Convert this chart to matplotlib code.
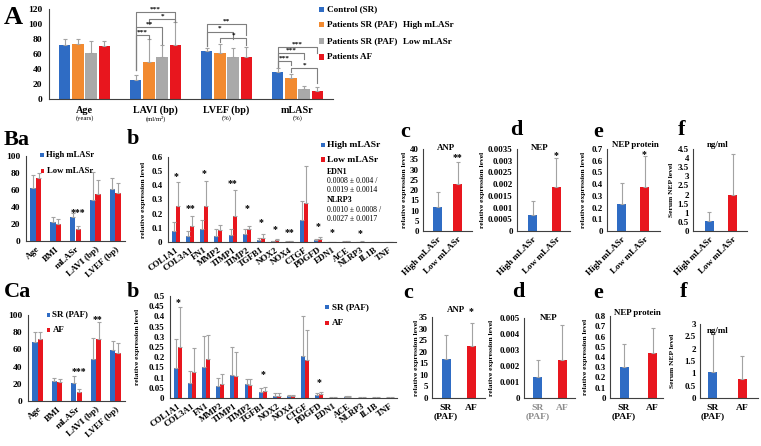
import numpy as np
import matplotlib
matplotlib.use('Agg')
import matplotlib.pyplot as plt
from matplotlib.patches import Rectangle
from matplotlib.ticker import FuncFormatter
from matplotlib.transforms import offset_copy

# ---------------- data ----------------
A_groups = ['Age', 'LAVI (bp)', 'LVEF (bp)', 'mLASr']
A_units = ['(years)', '(ml/m²)', '(%)', '(%)']
A_series = ['Control (SR)', 'Patients SR (PAF)', 'Patients SR (PAF)', 'Patients AF']
A_series_suffix = ['', 'High mLASr', 'Low mLASr', '']
A_control = [72, 25, 63.5, 36.4]
A_control_err = [7.5, 7, 4, 4.6]
A_high = [73, 49, 62, 28.4]
A_high_err = [6.5, 31, 12, 5.6]
A_low = [62, 55.5, 56.5, 14]
A_low_err = [15, 16.5, 11, 3.8]
A_af = [70.7, 72, 56.5, 11]
A_af_err = [6, 31, 13.5, 5]
A_sig_group = [1, 1, 1, 1, 2, 2, 2, 3, 3, 3, 3]
A_sig_from = [0, 1, 0, 0, 0, 0, 1, 0, 0, 0, 1]
A_sig_to = [3, 3, 2, 1, 3, 2, 3, 3, 2, 1, 3]
A_sig_y = [116, 107, 96, 85, 100, 90, 81, 69, 61, 51, 41]
A_sig_leg_from = [39, 100, 39, 39, 71, 71, 76, 43, 43, 43, 36]
A_sig_leg_to = [103, 103, 73, 80, 86, 80, 72, 62, 54, 46, 21]
A_sig_text = ['***', '*', '**', '***', '**', '*', '*', '***', '***', '***', '*']

clin_cats = ['Age', 'BMI', 'mLASr', 'LAVI (bp)', 'LVEF (bp)']
Ba_high = [61.8, 22.4, 28.3, 48, 60.6]
Ba_high_err = [16, 5.6, 4.7, 33.5, 14]
Ba_low = [73.6, 20.5, 14.6, 55, 56]
Ba_low_err = [6, 5, 2.7, 17, 12]
Ba_sig = ['', '', '***', '', '']
Ba_sig_y = [0, 0, 36, 0, 0]

Ca_sr = [68.9, 23.3, 21, 49.4, 59]
Ca_sr_err = [11.6, 4, 7.8, 23.4, 11]
Ca_af = [71.6, 22.2, 10.5, 72, 55.3]
Ca_af_err = [9, 3.8, 3.1, 19.4, 11.7]
Ca_sig = ['', '', '***', '**', '']
Ca_sig_y = [0, 0, 37, 97, 0]

genes = ['COL1A1', 'COL3A1', 'FN1', 'MMP2', 'TIMP1', 'TIMP2', 'TGFB1', 'NOX2',
         'NOX4', 'CTGF', 'PDGFD', 'EDN1', 'ACE', 'NLRP3', 'IL1B', 'TNF']
Bb_high = [0.076, 0.040, 0.095, 0.043, 0.047, 0.059, 0.017, 0.005, 0.002, 0.152, 0.012, 0.0008, 0.003, 0.0010, 0.0005, 0.0005]
Bb_high_err = [0.062, 0.036, 0.059, 0.047, 0.048, 0.031, 0.014, 0.004, 0.002, 0.14, 0.006, 0.0004, 0.002, 0.0008, 0.0003, 0.0003]
Bb_low = [0.256, 0.111, 0.254, 0.083, 0.185, 0.095, 0.031, 0.012, 0.005, 0.272, 0.022, 0.0019, 0.004, 0.0027, 0.001, 0.001]
Bb_low_err = [0.166, 0.072, 0.18, 0.036, 0.183, 0.016, 0.026, 0.009, 0.004, 0.268, 0.014, 0.0014, 0.003, 0.0017, 0.0005, 0.0005]
Bb_sig = ['*', '**', '*', '', '**', '*', '*', '*', '**', '', '*', '*', '', '*', '', '']
Bb_sig_y = [0.48, 0.25, 0.50, 0, 0.43, 0.25, 0.15, 0.107, 0.08, 0, 0.128, 0.085, 0, 0.075, 0, 0]
Bb_note = ['EDN1', '0.0008 ± 0.004 /', '0.0019 ± 0.0014',
           'NLRP3', '0.0010 ± 0.0008 /', '0.0027 ± 0.0017']

Cb_sr = [0.145, 0.073, 0.152, 0.060, 0.111, 0.068, 0.031, 0.011, 0.008, 0.205, 0.015, 0.002, 0.006, 0.002, 0.002, 0.002]
Cb_sr_err = [0.144, 0.059, 0.150, 0.040, 0.137, 0.027, 0.016, 0.012, 0.006, 0.198, 0.009, 0.001, 0.003, 0.001, 0.001, 0.001]
Cb_af = [0.250, 0.127, 0.189, 0.068, 0.108, 0.063, 0.035, 0.011, 0.008, 0.184, 0.018, 0.002, 0.006, 0.002, 0.002, 0.002]
Cb_af_err = [0.194, 0.118, 0.121, 0.051, 0.118, 0.032, 0.017, 0.012, 0.006, 0.150, 0.009, 0.001, 0.003, 0.001, 0.001, 0.001]
Cb_sig = ['*', '', '', '', '', '', '*', '', '', '', '*', '', '', '', '', '']
Cb_sig_y = [0.479, 0, 0, 0, 0, 0, 0.125, 0, 0, 0, 0.087, 0, 0, 0, 0, 0]

mlasr_groups = ['High mLASr', 'Low mLASr']
rhythm_groups = ['SR\n(PAF)', 'AF']
small_titles = ['ANP', 'NEP', 'NEP protein', 'ng/ml']
small_ylabels = ['relative expression level', 'relative expression level',
                 'relative expression level', 'Serum NEP level']
top_vals = [[11.8, 22.9], [0.00067, 0.00187], [0.229, 0.377], [0.55, 1.97]]
top_errs = [[7.0, 10.9], [0.00062, 0.00123], [0.177, 0.266], [0.50, 2.25]]
top_sig = ['**', '*', '*', '']
top_sig_y = [37, 0.0033, 0.67, 0]
top_ymax = [40, 0.0035, 0.7, 4.5]
top_ystep = [5, 0.0005, 0.1, 0.5]
bot_vals = [[17.0, 22.3], [0.00131, 0.00235], [0.298, 0.437], [1.05, 0.78]]
bot_errs = [[10.1, 10.1], [0.00109, 0.00219], [0.227, 0.243], [1.56, 0.91]]
bot_sig = ['*', '', '', '']
bot_sig_y = [38.5, 0, 0, 0]
bot_ymax = [35, 0.005, 0.8, 3]
bot_ystep = [5, 0.001, 0.1, 0.5]

# ---------------- style ----------------
plt.rcParams['font.family'] = ['Liberation Serif', 'DejaVu Serif']
plt.rcParams['font.weight'] = 'bold'
plt.rcParams['axes.labelweight'] = 'bold'

BLUE = '#2f6cc4'
ORANGE = '#f28a30'
GRAY = '#a9a9a9'
RED = '#e8161e'
ECOL = '#a3a3a3'
AXC = '#404040'
EKW = dict(ecolor=ECOL, capsize=1.6, elinewidth=0.8, capthick=0.8)

W, H = 761, 446
fig = plt.figure(figsize=(W / 100, H / 100), dpi=100)
fig.patch.set_facecolor('white')
gfmt = FuncFormatter(lambda v, p: '%g' % round(v, 6))


def px_axes(l, t, r, b):
    ax = fig.add_axes([l / W, 1 - b / H, (r - l) / W, (b - t) / H])
    ax.patch.set_alpha(0)
    for s in ['top', 'right']:
        ax.spines[s].set_visible(False)
    for s in ['left', 'bottom']:
        ax.spines[s].set_color(AXC)
        ax.spines[s].set_linewidth(0.8)
    ax.tick_params(length=0, labelsize=6.5, pad=2)
    ax.yaxis.set_major_formatter(gfmt)
    return ax


def ftext(x, y, s, **kw):
    kw.setdefault('va', 'center')
    fig.text(x / W, 1 - y / H, s, **kw)


def square(x0, y0, x1, y1, color):
    fig.add_artist(Rectangle((x0 / W, 1 - y1 / H), (x1 - x0) / W, (y1 - y0) / H,
                             transform=fig.transFigure, color=color, lw=0))


def stars(ax, xs, ys, labels, size=6.5):
    tr = offset_copy(ax.transData, fig=fig, y=-2.2, units='dots')
    for x, y, s in zip(xs, ys, labels):
        if s:
            ax.text(x, y, s, transform=tr, ha='center', va='center',
                    fontsize=size, clip_on=False)


def set_ylab(ax, text, size, x_center, l, r):
    ax.set_ylabel(text, fontsize=size)
    ax.yaxis.set_label_coords((x_center + 3.2 - l) / (r - l), 0.5)


def zeros(n):
    return np.zeros(n)


# ---------------- panel A ----------------
axA = px_axes(49, 9, 333, 99)
xA = np.arange(len(A_groups))
offA = [-0.28, -0.093, 0.093, 0.28]
seriesA = [(A_control, A_control_err, BLUE), (A_high, A_high_err, ORANGE),
           (A_low, A_low_err, GRAY), (A_af, A_af_err, RED)]
for k, (v, e, c) in enumerate(seriesA):
    axA.bar(xA + offA[k], v, 0.165, color=c, yerr=[zeros(len(v)), e], error_kw=EKW)
axA.set_xlim(-0.5, 3.5)
axA.set_ylim(0, 120)
axA.set_yticks(np.arange(0, 121, 20))
axA.set_xticks([])
axA.tick_params(axis='y', labelsize=6.8, pad=5)
for i, (g, u) in enumerate(zip(A_groups, A_units)):
    axA.text(i, -0.125, g, transform=axA.get_xaxis_transform(), ha='center',
             va='center', fontsize=7.3)
    axA.text(i, -0.215, u, transform=axA.get_xaxis_transform(), ha='center',
             va='center', fontsize=4.8, fontweight='normal')
for g, i, j, y, l1, l2, s in zip(A_sig_group, A_sig_from, A_sig_to, A_sig_y,
                                 A_sig_leg_from, A_sig_leg_to, A_sig_text):
    x1 = g + offA[i]
    x2 = g + offA[j]
    axA.plot([x1, x1, x2, x2], [l1, y, y, l2], color='#7f7f7f', lw=0.8, clip_on=False)
    axA.text((x1 + x2) / 2, y + 2.2, s, ha='center', va='baseline', fontsize=5.2,
             clip_on=False)

leg_y = [9.5, 24.5, 41, 57]
leg_col = [BLUE, ORANGE, GRAY, RED]
for y, c, s, suf in zip(leg_y, leg_col, A_series, A_series_suffix):
    square(319, y - 2.5, 324, y + 2.5, c)
    ftext(327, y, s, fontsize=6.6)
    if suf:
        ftext(403, y + 0.5, suf, fontsize=6.6)

ftext(4, 18, 'A', fontsize=19)
ftext(4, 140, 'Ba', fontsize=16)
ftext(127, 139, 'b', fontsize=16)
ftext(4, 292, 'Ca', fontsize=16)
ftext(127, 292, 'b', fontsize=16)


# ---------------- clinical pair panels ----------------
def clin_panel(l, t, r, b, v1, e1, v2, e2, sig, sig_y):
    ax = px_axes(l, t, r, b)
    x = np.arange(len(clin_cats))
    ax.bar(x - 0.14, v1, 0.27, color=BLUE, yerr=[zeros(len(v1)), e1], error_kw=EKW)
    ax.bar(x + 0.14, v2, 0.27, color=RED, yerr=[zeros(len(v2)), e2], error_kw=EKW)
    ax.set_xlim(-0.5, 4.5)
    ax.set_ylim(0, 100)
    ax.set_yticks(np.arange(0, 101, 20))
    ax.tick_params(axis='y', labelsize=6.8, pad=4)
    ax.set_xticks(x)
    ax.set_xticklabels(clin_cats, rotation=42, ha='right', rotation_mode='anchor',
                       fontsize=6.6)
    ax.tick_params(axis='x', pad=3)
    stars(ax, x + 0.1, sig_y, sig, size=7)
    return ax


clin_panel(26, 156, 125, 241, Ba_high, Ba_high_err, Ba_low, Ba_low_err, Ba_sig, Ba_sig_y)
square(40, 152.7, 43.5, 156.7, BLUE)
ftext(46.5, 155, mlasr_groups[0], fontsize=6.2)
square(40.7, 169, 44.2, 173, RED)
ftext(47, 171, mlasr_groups[1], fontsize=6.2)

clin_panel(28, 315, 125, 401, Ca_sr, Ca_sr_err, Ca_af, Ca_af_err, Ca_sig, Ca_sig_y)
square(46.7, 312.7, 50.2, 316.7, BLUE)
ftext(52.5, 314.5, 'SR (PAF)', fontsize=6.4)
square(46.7, 328, 50.2, 332, RED)
ftext(53, 330, 'AF', fontsize=6.4)


# ---------------- gene panels ----------------
def gene_panel(l, t, r, b, v1, e1, v2, e2, sig, sig_y, ymax, step, ylab_x):
    ax = px_axes(l, t, r, b)
    x = np.arange(len(genes))
    ax.bar(x - 0.14, v1, 0.28, color=BLUE, yerr=[zeros(len(v1)), e1], error_kw=EKW)
    ax.bar(x + 0.14, v2, 0.28, color=RED, yerr=[zeros(len(v2)), e2], error_kw=EKW)
    ax.set_xlim(-0.55, 15.5)
    ax.set_ylim(0, ymax)
    ax.set_yticks(np.arange(0, ymax + step / 2, step))
    ax.tick_params(axis='y', labelsize=6.5, pad=4)
    ax.set_xticks(x)
    ax.set_xticklabels(genes, rotation=35, ha='right', rotation_mode='anchor',
                       fontsize=6.4)
    ax.tick_params(axis='x', pad=3)
    set_ylab(ax, 'relative expression level', 5.4, ylab_x, l, r)
    stars(ax, x, sig_y, sig, size=7)
    return ax


gene_panel(168, 157, 396, 242, Bb_high, Bb_high_err, Bb_low, Bb_low_err,
           Bb_sig, Bb_sig_y, 0.6, 0.1, 143)
square(321, 142.7, 324.5, 146.7, BLUE)
ftext(327, 145, mlasr_groups[0], fontsize=6.8)
square(321, 157.3, 324.5, 161.5, RED)
ftext(327, 159.5, mlasr_groups[1], fontsize=6.8)
note_y = [172, 181, 190, 200, 209.5, 219]
for y, s in zip(note_y, Bb_note):
    bold = s in ('EDN1', 'NLRP3')
    ftext(327, y, s, fontsize=5.8 if bold else 5.6,
          fontweight='bold' if bold else 'normal')

gene_panel(170, 296, 397, 398, Cb_sr, Cb_sr_err, Cb_af, Cb_af_err,
           Cb_sig, Cb_sig_y, 0.5, 0.05, 137)
square(325, 305, 329.3, 309, BLUE)
ftext(331.5, 307, 'SR (PAF)', fontsize=6.6)
square(325, 320.7, 329.3, 325, RED)
ftext(332, 323, 'AF', fontsize=6.6)


# ---------------- small two-bar panels ----------------
def small_panel(l, t, r, b, c0, sp, vals, errs, ymax, step, title, tpos,
                ylab, ylab_x, sig, sig_y, cats, rot, tick_color='black'):
    ax = px_axes(l, t, r, b)
    xmin = -(c0 - l) / sp
    ax.set_xlim(xmin, xmin + (r - l) / sp)
    w = 9 / sp
    ax.bar([0, 1], vals, w, color=[BLUE, RED], yerr=[zeros(2), errs], error_kw=EKW)
    ax.set_ylim(0, ymax)
    ax.set_yticks(np.arange(0, ymax + step / 2, step))
    ax.tick_params(axis='y', labelsize=6.4, pad=3)
    ax.set_xticks([0, 1])
    if rot:
        ax.set_xticklabels(cats, rotation=45, ha='right', rotation_mode='anchor',
                           fontsize=6.6)
        ax.tick_params(axis='x', pad=3)
    else:
        ax.set_xticklabels(cats, fontsize=6.8, linespacing=1.15, color=tick_color)
        ax.tick_params(axis='x', pad=4)
    set_ylab(ax, ylab, 5.4, ylab_x, l, r)
    ftext(tpos[0], tpos[1], title, fontsize=6.4, ha='center')
    stars(ax, [1], [sig_y], [sig], size=7)
    return ax


top_boxes = [(423, 149, 472, 231, 437.5, 20.0), (517, 149, 570, 231, 532.5, 23.5),
             (607, 149, 660, 231, 621.5, 23.0), (693, 149, 747, 231, 709.0, 23.5)]
top_tpos = [(446, 147.5), (540, 147.5), (635, 145), (718, 145)]
top_ylab_x = [404, 482, 583, 671]
for k in range(4):
    l, t, r, b, c0, sp = top_boxes[k]
    small_panel(l, t, r, b, c0, sp, top_vals[k], top_errs[k], top_ymax[k], top_ystep[k],
                small_titles[k], top_tpos[k], small_ylabels[k], top_ylab_x[k],
                top_sig[k], top_sig_y[k], mlasr_groups, True)

bot_boxes = [(432, 317, 485, 398, 446.0, 25.5), (524, 318, 575, 398, 537.5, 24.5),
             (610, 316, 663, 398, 624.0, 28.5), (700, 324, 758, 398, 712.5, 29.5)]
bot_tpos = [(456, 310.5), (549, 318), (637, 313), (718, 331)]
bot_ylab_x = [416, 491, 585, 672]
for k in range(4):
    l, t, r, b, c0, sp = bot_boxes[k]
    small_panel(l, t, r, b, c0, sp, bot_vals[k], bot_errs[k], bot_ymax[k], bot_ystep[k],
                small_titles[k], bot_tpos[k], small_ylabels[k], bot_ylab_x[k],
                bot_sig[k], bot_sig_y[k], rhythm_groups, False,
                tick_color='#8c8c8c' if k == 1 else 'black')

top_letters = [(400, 132, 'c'), (510, 130, 'd'), (593, 132, 'e'), (678, 130, 'f')]
bot_letters = [(403, 293, 'c'), (512, 292, 'd'), (593, 293, 'e'), (680, 292, 'f')]
for x, y, s in top_letters + bot_letters:
    ftext(x, y, s, fontsize=16)

fig.savefig('out.png', dpi=100)
